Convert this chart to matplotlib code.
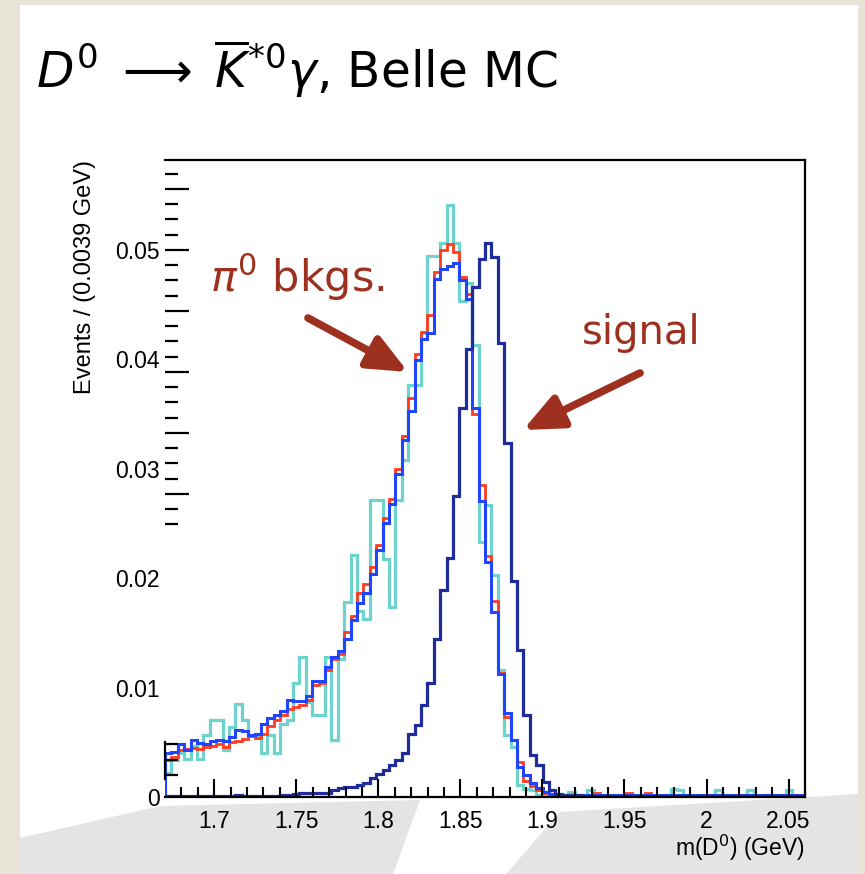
import numpy as np
import matplotlib
matplotlib.use('Agg')
import matplotlib.pyplot as plt
from matplotlib.patches import Rectangle, Polygon, FancyArrowPatch

plt.rcParams['font.family'] = ['Liberation Sans', 'DejaVu Sans']
plt.rcParams['mathtext.fontset'] = 'dejavusans'

# 100 bins of 0.0039 GeV between 1.67 and 2.06 GeV
x_lo, x_hi, n_bins = 1.67, 2.06, 100
edges = np.linspace(x_lo, x_hi, n_bins + 1)

# normalised Belle MC
signal = [
    0.0001, 0.0001, 0.0001, 0.0001, 0.0001, 0.0001, 0.0001, 0.0001, 0.0001, 0.0001,
    0.0001, 0.0002, 0.0001, 0.0001, 0.0001, 0.0001, 0.0001, 0.0001, 0.0002, 0.0002,
    0.0003, 0.0004, 0.0004, 0.0004, 0.0004, 0.0004, 0.0006, 0.0008, 0.0009, 0.0009,
    0.0011, 0.0013, 0.0017, 0.0021, 0.0025, 0.0029, 0.0034, 0.0040, 0.0058, 0.0066,
    0.0084, 0.0104, 0.0144, 0.0189, 0.0218, 0.0275, 0.0355, 0.0409, 0.0466, 0.0492,
    0.0506, 0.0493, 0.0415, 0.0323, 0.0197, 0.0134, 0.0075, 0.0038, 0.0029, 0.0014,
    0.0006, 0.0003, 0.0002, 0.0002, 0.0002, 0.0001, 0.0001, 0.0001, 0.0001, 0.0001,
    0.0001, 0.0001, 0.0001, 0.0001, 0.0001, 0.0001, 0.0001, 0.0001, 0.0001, 0.0001,
    0.0001, 0.0001, 0.0001, 0.0001, 0.0001, 0.0001, 0.0001, 0.0001, 0.0001, 0.0001,
    0.0001, 0.0001, 0.0001, 0.0001, 0.0001, 0.0001, 0.0001, 0.0001, 0.0001, 0.0001,
]
bkg_blue = [
    0.0040, 0.0041, 0.0048, 0.0043, 0.0052, 0.0049, 0.0048, 0.0051, 0.0052, 0.0051,
    0.0055, 0.0061, 0.0060, 0.0057, 0.0058, 0.0067, 0.0072, 0.0075, 0.0079, 0.0089,
    0.0088, 0.0088, 0.0092, 0.0106, 0.0106, 0.0119, 0.0128, 0.0133, 0.0144, 0.0162,
    0.0177, 0.0186, 0.0204, 0.0226, 0.0250, 0.0268, 0.0295, 0.0326, 0.0353, 0.0399,
    0.0418, 0.0424, 0.0473, 0.0482, 0.0485, 0.0488, 0.0472, 0.0455, 0.0355, 0.0270,
    0.0215, 0.0169, 0.0112, 0.0077, 0.0052, 0.0027, 0.0020, 0.0013, 0.0008, 0.0005,
    0.0003, 0.0002, 0.0002, 0.0002, 0.0002, 0.0002, 0.0002, 0.0002, 0.0002, 0.0002,
    0.0002, 0.0002, 0.0002, 0.0002, 0.0002, 0.0002, 0.0002, 0.0002, 0.0002, 0.0002,
    0.0002, 0.0002, 0.0002, 0.0002, 0.0002, 0.0002, 0.0002, 0.0002, 0.0002, 0.0002,
    0.0002, 0.0002, 0.0002, 0.0002, 0.0002, 0.0002, 0.0002, 0.0002, 0.0002, 0.0002,
]
bkg_red = [
    0.0034, 0.0037, 0.0043, 0.0044, 0.0045, 0.0044, 0.0046, 0.0047, 0.0048, 0.0046,
    0.0050, 0.0051, 0.0053, 0.0056, 0.0054, 0.0058, 0.0065, 0.0070, 0.0075, 0.0080,
    0.0082, 0.0084, 0.0089, 0.0102, 0.0104, 0.0116, 0.0126, 0.0131, 0.0151, 0.0165,
    0.0186, 0.0195, 0.0210, 0.0230, 0.0255, 0.0272, 0.0300, 0.0330, 0.0365, 0.0405,
    0.0425, 0.0440, 0.0480, 0.0500, 0.0505, 0.0498, 0.0475, 0.0460, 0.0350, 0.0285,
    0.0220, 0.0179, 0.0113, 0.0073, 0.0052, 0.0032, 0.0015, 0.0010, 0.0006, 0.0004,
    0.0003, 0.0002, 0.0002, 0.0002, 0.0002, 0.0002, 0.0002, 0.0004, 0.0002, 0.0002,
    0.0002, 0.0002, 0.0004, 0.0002, 0.0002, 0.0004, 0.0002, 0.0002, 0.0002, 0.0002,
    0.0002, 0.0002, 0.0002, 0.0002, 0.0002, 0.0002, 0.0002, 0.0002, 0.0002, 0.0002,
    0.0002, 0.0002, 0.0002, 0.0002, 0.0002, 0.0002, 0.0002, 0.0002, 0.0002, 0.0002,
]
bkg_cyan = [
    0.0022, 0.0034, 0.0040, 0.0035, 0.0047, 0.0035, 0.0057, 0.0070, 0.0070, 0.0043,
    0.0064, 0.0085, 0.0070, 0.0057, 0.0057, 0.0040, 0.0057, 0.0040, 0.0067, 0.0070,
    0.0104, 0.0128, 0.0087, 0.0075, 0.0075, 0.0128, 0.0052, 0.0126, 0.0178, 0.0221,
    0.0170, 0.0163, 0.0271, 0.0271, 0.0217, 0.0174, 0.0271, 0.0308, 0.0376, 0.0376,
    0.0424, 0.0494, 0.0494, 0.0506, 0.0541, 0.0506, 0.0453, 0.0470, 0.0413, 0.0233,
    0.0267, 0.0203, 0.0116, 0.0057, 0.0046, 0.0011, 0.0007, 0.0006, 0.0002, 0.0001,
    0.0001, 0.0001, 0.0001, 0.0005, 0.0001, 0.0001, 0.0006, 0.0001, 0.0001, 0.0001,
    0.0001, 0.0001, 0.0001, 0.0001, 0.0001, 0.0001, 0.0001, 0.0001, 0.0001, 0.0007,
    0.0006, 0.0001, 0.0001, 0.0001, 0.0001, 0.0001, 0.0006, 0.0001, 0.0001, 0.0001,
    0.0001, 0.0006, 0.0001, 0.0001, 0.0001, 0.0001, 0.0001, 0.0006, 0.0001, 0.0001,
]

x_ticks = [1.7, 1.75, 1.8, 1.85, 1.9, 1.95, 2.0, 2.05]
x_tick_labels = ['1.7', '1.75', '1.8', '1.85', '1.9', '1.95', '2', '2.05']
y_ticks = [0, 0.01, 0.02, 0.03, 0.04, 0.05]
y_tick_labels = ['0', '0.01', '0.02', '0.03', '0.04', '0.05']

W, H = 865, 874
fig = plt.figure(figsize=(W / 100, H / 100), dpi=100)
fig.patch.set_facecolor('#e7e3d7')


def fx(px):
    return px / W


def fy(py):
    return 1 - py / H


# slide page and the grey swoosh of the template
fig.patches.append(Rectangle((fx(20), 0), fx(838), fy(5), transform=fig.transFigure,
                             facecolor='white', edgecolor='none', zorder=0))
fig.patches.append(Polygon([(fx(20), fy(874)), (fx(20), fy(838)), (fx(160), fy(806)),
                            (fx(420), fy(800)), (fx(393), fy(874))],
                           transform=fig.transFigure, facecolor='#e4e4e4',
                           edgecolor='none', zorder=0))
fig.patches.append(Polygon([(fx(506), fy(874)), (fx(560), fy(812)), (fx(858), fy(794)),
                            (fx(858), fy(874))],
                           transform=fig.transFigure, facecolor='#e4e4e4',
                           edgecolor='none', zorder=0))

ax = fig.add_axes([fx(165), fy(797), fx(640), (797 - 160) / H])
ax.set_facecolor('white')
ax.set_zorder(1)

ax.stairs(bkg_cyan, edges, color='#6fd3cd', linewidth=2.3)
ax.stairs(bkg_red, edges, color='#ff3b1f', linewidth=2.0)
ax.stairs(bkg_blue, edges, color='#2145ff', linewidth=2.2)
ax.stairs(signal, edges, color='#1e2c9c', linewidth=2.3)

ax.set_xlim(x_lo, x_hi)
ax.set_ylim(0, 0.0582)

ax.set_xticks(x_ticks)
ax.set_xticklabels(x_tick_labels)
ax.set_xticks(np.arange(1.68, 2.06, 0.01), minor=True)
ax.tick_params(axis='x', which='major', direction='in', length=13, width=1.5,
               labelsize=16.5, pad=9)
ax.tick_params(axis='x', which='minor', direction='in', length=7, width=1.5)

ax.set_yticks(y_ticks)
ax.set_yticklabels(y_tick_labels)
ax.tick_params(axis='y', which='major', length=0, labelsize=16.5, pad=4)

# y-axis tick marks as they appear on the slide
ytr = ax.get_yaxis_transform()
upper = np.arange(0.0249, 0.0582, 0.001394)
for i, yv in enumerate(upper):
    long_tick = (i - 2) % 4 == 0
    ax.plot([0, 0.037 if long_tick else 0.02], [yv, yv], color='black', lw=1.6,
            transform=ytr, clip_on=False, solid_capstyle='butt')
for yv in [0.0020, 0.0034, 0.0048]:
    ax.plot([0, 0.02], [yv, yv], color='black', lw=1.6, transform=ytr,
            clip_on=False, solid_capstyle='butt')
ax.plot([0, 0], [0.0016, 0.0050], color='black', lw=1.6, transform=ytr, clip_on=False)

ax.spines['left'].set_visible(False)
for side in ['bottom', 'right', 'top']:
    ax.spines[side].set_linewidth(1.6)

ax.text(-0.125, 1.0, 'Events / (0.0039 GeV)', transform=ax.transAxes, rotation=90,
        ha='center', va='top', fontsize=17)
ax.text(1.0, -0.080, r'm(D$^0$) (GeV)', transform=ax.transAxes,
        ha='right', va='center', fontsize=16.5)

# slide title
fig.text(fx(36), fy(88), r'$D^0 \;\longrightarrow\; \overline{K}^{*0}\gamma$, Belle MC',
         fontsize=35, va='baseline', ha='left', family='DejaVu Sans')

red = '#9d301f'
fig.text(fx(210), fy(292), r'$\pi^0$ bkgs.', color=red, fontsize=31,
         va='baseline', ha='left', family='DejaVu Sans')
fig.text(fx(582), fy(344), 'signal', color=red, fontsize=29,
         va='baseline', ha='left', family='DejaVu Sans')

for tail, head in [((308, 318), (408, 372)), ((640, 373), (523, 430))]:
    arr = FancyArrowPatch((fx(tail[0]), fy(tail[1])), (fx(head[0]), fy(head[1])),
                          transform=fig.transFigure,
                          arrowstyle='-|>,head_length=1.7,head_width=0.75',
                          mutation_scale=14, color=red, lw=5.5, zorder=5,
                          shrinkA=0, shrinkB=0)
    fig.patches.append(arr)

fig.savefig('out.png', dpi=100, facecolor=fig.get_facecolor())
